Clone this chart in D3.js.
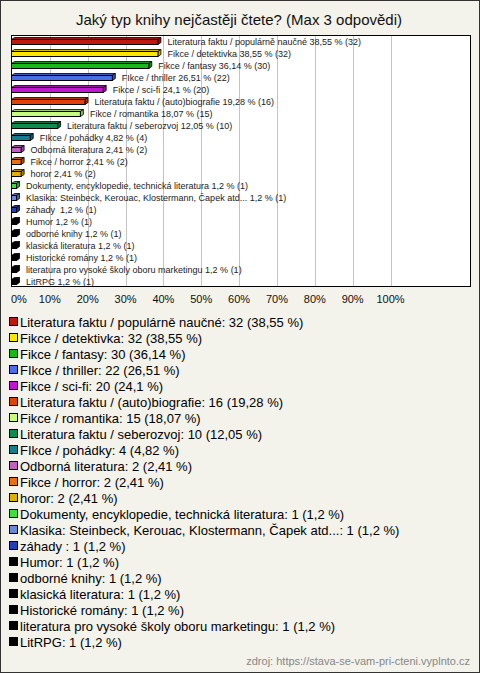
<!DOCTYPE html>
<html><head><meta charset="utf-8">
<script src="https://cdn.jsdelivr.net/npm/d3@7"></script>
<style>body{margin:0;background:#fff}svg{display:block}text{font-family:Arial,"Liberation Sans",sans-serif}</style>
</head><body><svg id="c" width="480" height="673"></svg>
<script>
const categories = [
  "Literatura faktu / populárně naučné","Fikce / detektivka","Fikce / fantasy","FIkce / thriller",
  "Fikce / sci-fi","Literatura faktu / (auto)biografie","Fikce / romantika","Literatura faktu / seberozvoj",
  "FIkce / pohádky","Odborná literatura","Fikce / horror","horor",
  "Dokumenty, encyklopedie, technická literatura","Klasika: Steinbeck, Kerouac, Klostermann, Čapek atd...",
  "záhady ","Humor","odborné knihy","klasická literatura","Historické romány",
  "literatura pro vysoké školy oboru marketingu","LitRPG"
];
const counts = [32,32,30,22,20,16,15,10,4,2,2,2,1,1,1,1,1,1,1,1,1];
const percents = [38.55,38.55,36.14,26.51,24.1,19.28,18.07,12.05,4.82,2.41,2.41,2.41,1.2,1.2,1.2,1.2,1.2,1.2,1.2,1.2,1.2];
const colors = ["#c0180c","#ffe600","#18b818","#4a6ee8","#c018d0","#e0400c","#c8fa80","#108a50",
  "#1a7a90","#c060c0","#e87010","#e0b000","#40dc40","#6888d8","#2040b8",
  "#000000","#000000","#000000","#000000","#000000","#000000"];
const tickValues = [0,10,20,30,40,50,60,70,80,90,100];
const tickLabels = ["0%","10%","20%","30%","40%","50%","60%","70%","80%","90%","100%"];
const title = "Jaký typ knihy nejčastěji čtete? (Max 3 odpovědi)";
const source = "zdroj: https://stava-se-vam-pri-cteni.vyplnto.cz";

const fmt = v => String(v).replace(".", ",");
const data = categories.map((c,i)=>({name:c,n:counts[i],p:percents[i],color:colors[i]}));

const svg = d3.select("#c");
svg.append("rect").attr("x",0.5).attr("y",0.5).attr("width",479).attr("height",672)
  .attr("fill","#f3f2eb").attr("stroke","#333");

svg.append("text").attr("x",239).attr("y",25).attr("text-anchor","middle")
  .attr("font-size",15).attr("fill","#111").text(title);

const L=11, R=471, T=35, B=287;
const x = d3.scaleLinear().domain([0,100]).range([12,390.5]);
const y = d3.scaleBand().domain(categories).range([T,B]);

svg.append("rect").attr("x",L+0.5).attr("y",T+0.5).attr("width",R-L-1).attr("height",B-T-1)
  .attr("fill","#fff");
// gridlines
svg.append("g").selectAll("line").data(tickValues.slice(1)).join("line")
  .attr("x1",d=>Math.round(x(d))+0.5).attr("x2",d=>Math.round(x(d))+0.5)
  .attr("y1",T).attr("y2",B).attr("stroke","#c4c4c4");
svg.append("rect").attr("x",L+0.5).attr("y",T+0.5).attr("width",R-L-1).attr("height",B-T-1)
  .attr("fill","none").attr("stroke","#000");

// bars 3D
const dx=3, dy=2;
const bars = svg.append("g");
data.forEach(d=>{
  const c = y(d.name)+y.bandwidth()/2;
  const x0 = x(0)-0.5, x1 = x(d.p);
  const top = c-1.5, bot = c+3.5;
  const g = bars.append("g");
  // top face
  g.append("path").attr("d",`M${x0},${top}L${x0+dx},${top-dy}L${x1+dx},${top-dy}L${x1},${top}Z`)
    .attr("fill",d3.color(d.color).darker(0.6)).attr("stroke","#000").attr("stroke-width",0.8);
  // right face
  g.append("path").attr("d",`M${x1},${top}L${x1+dx},${top-dy}L${x1+dx},${bot-dy}L${x1},${bot}Z`)
    .attr("fill",d3.color(d.color).darker(0.8)).attr("stroke","#000").attr("stroke-width",0.8);
  // front
  g.append("rect").attr("x",x0).attr("y",top).attr("width",Math.max(0,x1-x0)).attr("height",bot-top)
    .attr("fill",d.color).attr("stroke","#000").attr("stroke-width",1);
  g.append("text").attr("x",x1+9.5).attr("y",c+3.5).attr("font-size",9).attr("fill","#222")
    .attr("xml:space","preserve").style("white-space","pre")
    .text(`${d.name} ${fmt(d.p)} % (${d.n})`);
});

// axis labels
svg.append("g").selectAll("text").data(tickValues).join("text")
  .attr("x",(d,i)=> i===0 ? L : x(d)).attr("y",303)
  .attr("text-anchor",(d,i)=> i===0 ? "start":"middle")
  .attr("font-size",11).attr("fill","#111").text((d,i)=>tickLabels[i]);

// legend
const lg = svg.append("g");
data.forEach((d,i)=>{
  const cy = 322 + i*16;
  lg.append("rect").attr("x",9.5).attr("y",cy-4.5).attr("width",8).attr("height",8)
    .attr("fill",d.color).attr("stroke","#000");
  lg.append("text").attr("x",20).attr("y",cy+5).attr("font-size",13).attr("fill","#000")
    .text(`${d.name}: ${d.n} (${fmt(d.p)} %)`);
});

svg.append("text").attr("x",470).attr("y",665).attr("text-anchor","end")
  .attr("font-size",11).attr("fill","#888").text(source);
</script></body></html>
